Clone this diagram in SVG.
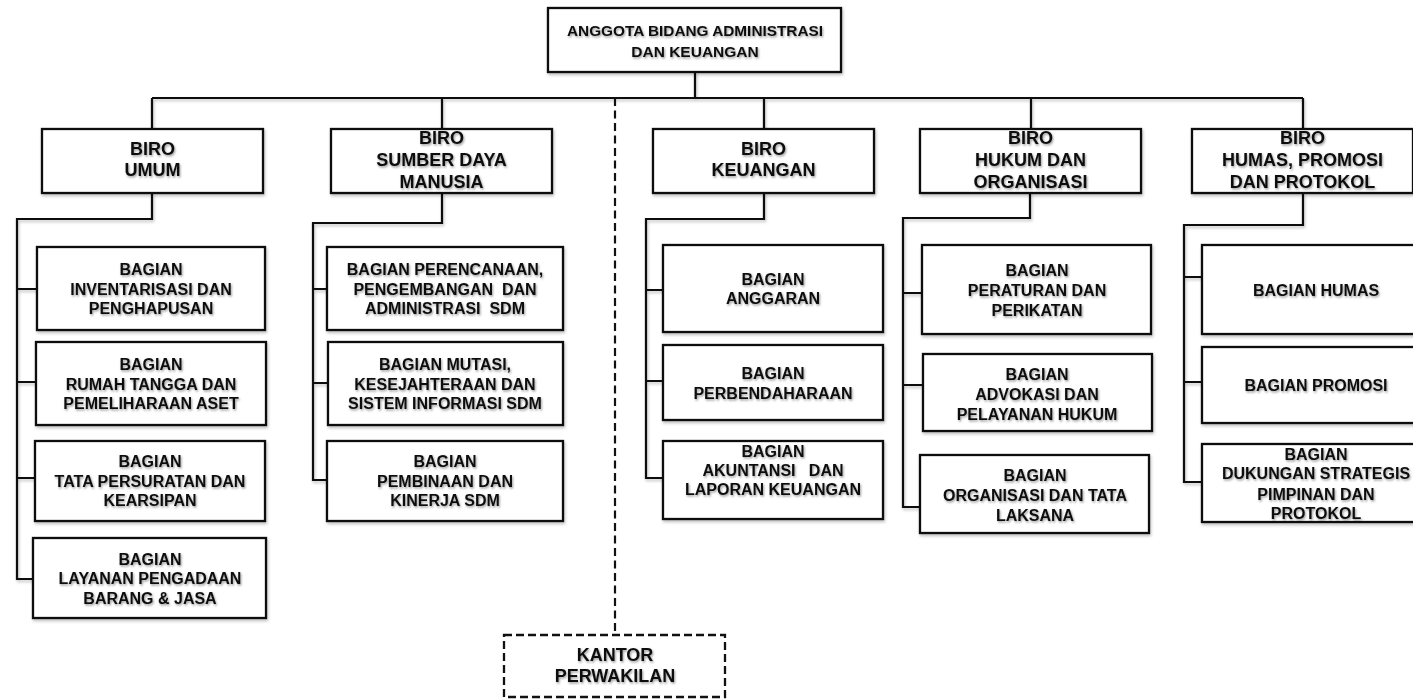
<svg xmlns="http://www.w3.org/2000/svg" width="1413" height="700" viewBox="0 0 1413 700">
<defs>
<filter id="ts" x="-10%" y="-30%" width="120%" height="160%">
<feDropShadow dx="1" dy="1.5" stdDeviation="1.2" flood-color="#000" flood-opacity="0.4"/>
</filter>
<filter id="bs" x="-5%" y="-10%" width="110%" height="125%">
<feDropShadow dx="1" dy="2" stdDeviation="1.5" flood-color="#000" flood-opacity="0.25"/>
</filter>
</defs>
<style>
.box{fill:#fff;stroke:#111;stroke-width:2.3;filter:url(#bs)}
.dbox{fill:#fff;stroke:#111;stroke-width:2.3;stroke-dasharray:8 4}
.ln{fill:none;stroke:#111;stroke-width:2.2;filter:url(#bs)}
.dl{fill:none;stroke:#111;stroke-width:2.2;stroke-dasharray:8 4.5}
text{font-family:"Liberation Sans",Arial,sans-serif;font-weight:bold;fill:#111;text-anchor:middle;filter:url(#ts)}
.t0{font-size:15.5px}
.t1{font-size:18px}
.t2{font-size:16px}
</style>

<g id="connectors">
<path class="ln" d="M695,72 V98 M152,98 H1303 M152,98 V129 M442,98 V129 M764,98 V129 M1031,98 V129 M1303,98 V129"/>
<path class="dl" d="M615,98 V635"/>
<path class="ln" d="M152,193 V219 H17 V579 H33 M17,289 H37 M17,382 H36 M17,478 H35"/>
<path class="ln" d="M442,193 V223 H313 V480 H327 M313,289 H327 M313,383 H328"/>
<path class="ln" d="M764,193 V219 H646 V478 H663 M646,290 H663 M646,381 H663"/>
<path class="ln" d="M1030,193 V218 H903 V507 H920 M903,293 H922 M903,385 H923"/>
<path class="ln" d="M1303,193 V225 H1184 V482 H1202 M1184,277 H1202 M1184,382 H1202"/>
</g>

<g id="anggota">
<rect class="box" x="548" y="8" width="293" height="64"/>
<text class="t0" x="695" y="35.5" textLength="256" lengthAdjust="spacingAndGlyphs">ANGGOTA BIDANG ADMINISTRASI</text>
<text class="t0" x="695" y="56.5">DAN KEUANGAN</text>
</g>

<g id="biro-umum">
<rect class="box" x="42" y="129" width="221" height="64"/>
<text class="t1" x="152.5" y="155.4">BIRO</text>
<text class="t1" x="152.5" y="176.4">UMUM</text>
</g>
<g id="biro-sdm">
<rect class="box" x="331" y="129" width="221" height="64"/>
<text class="t1" x="441.5" y="144.4">BIRO</text>
<text class="t1" x="441.5" y="166.4">SUMBER DAYA</text>
<text class="t1" x="441.5" y="188.4">MANUSIA</text>
</g>
<g id="biro-keuangan">
<rect class="box" x="653" y="129" width="221" height="64"/>
<text class="t1" x="763.5" y="155.4">BIRO</text>
<text class="t1" x="763.5" y="176.4">KEUANGAN</text>
</g>
<g id="biro-hukum">
<rect class="box" x="920" y="129" width="221" height="64"/>
<text class="t1" x="1030.5" y="144.4">BIRO</text>
<text class="t1" x="1030.5" y="166.4">HUKUM DAN</text>
<text class="t1" x="1030.5" y="188.4">ORGANISASI</text>
</g>
<g id="biro-humas">
<rect class="box" x="1192" y="129" width="221" height="64"/>
<text class="t1" x="1302.5" y="144.4">BIRO</text>
<text class="t1" x="1302.5" y="166.4">HUMAS, PROMOSI</text>
<text class="t1" x="1302.5" y="188.4">DAN PROTOKOL</text>
</g>

<g id="bagian-inventarisasi">
<rect class="box" x="37" y="247" width="228" height="83"/>
<text class="t2" x="151" y="274.7">BAGIAN</text>
<text class="t2" x="151" y="294.7">INVENTARISASI DAN</text>
<text class="t2" x="151" y="313.7">PENGHAPUSAN</text>
</g>
<g id="bagian-rumah-tangga">
<rect class="box" x="36" y="342" width="230" height="83"/>
<text class="t2" x="151" y="369.7">BAGIAN</text>
<text class="t2" x="151" y="389.7">RUMAH TANGGA DAN</text>
<text class="t2" x="151" y="408.7">PEMELIHARAAN ASET</text>
</g>
<g id="bagian-persuratan">
<rect class="box" x="35" y="441" width="230" height="80"/>
<text class="t2" x="150" y="466.7">BAGIAN</text>
<text class="t2" x="150" y="486.7">TATA PERSURATAN DAN</text>
<text class="t2" x="150" y="505.7">KEARSIPAN</text>
</g>
<g id="bagian-pengadaan">
<rect class="box" x="33" y="538" width="233" height="80"/>
<text class="t2" x="150" y="564.7">BAGIAN</text>
<text class="t2" x="150" y="583.7">LAYANAN PENGADAAN</text>
<text class="t2" x="150" y="603.7">BARANG &amp; JASA</text>
</g>

<g id="bagian-perencanaan">
<rect class="box" x="327" y="247" width="236" height="83"/>
<text class="t2" x="445" y="274.7">BAGIAN PERENCANAAN,</text>
<text class="t2" x="445" y="294.7" xml:space="preserve">PENGEMBANGAN  DAN</text>
<text class="t2" x="445" y="313.7" xml:space="preserve">ADMINISTRASI  SDM</text>
</g>
<g id="bagian-mutasi">
<rect class="box" x="328" y="342" width="235" height="83"/>
<text class="t2" x="445" y="369.7">BAGIAN MUTASI,</text>
<text class="t2" x="445" y="389.7">KESEJAHTERAAN DAN</text>
<text class="t2" x="445" y="408.7">SISTEM INFORMASI SDM</text>
</g>
<g id="bagian-pembinaan">
<rect class="box" x="327" y="441" width="236" height="80"/>
<text class="t2" x="445" y="466.7">BAGIAN</text>
<text class="t2" x="445" y="486.7">PEMBINAAN DAN</text>
<text class="t2" x="445" y="505.7">KINERJA SDM</text>
</g>

<g id="bagian-anggaran">
<rect class="box" x="663" y="245" width="220" height="87"/>
<text class="t2" x="773" y="284.7">BAGIAN</text>
<text class="t2" x="773" y="303.7">ANGGARAN</text>
</g>
<g id="bagian-perbendaharaan">
<rect class="box" x="663" y="345" width="220" height="75"/>
<text class="t2" x="773" y="378.7">BAGIAN</text>
<text class="t2" x="773" y="398.7">PERBENDAHARAAN</text>
</g>
<g id="bagian-akuntansi">
<rect class="box" x="663" y="441" width="220" height="78"/>
<text class="t2" x="773" y="456.7">BAGIAN</text>
<text class="t2" x="773" y="475.7" xml:space="preserve">AKUNTANSI   DAN</text>
<text class="t2" x="773" y="494.7">LAPORAN KEUANGAN</text>
</g>

<g id="bagian-peraturan">
<rect class="box" x="922" y="245" width="229" height="89"/>
<text class="t2" x="1037" y="275.7">BAGIAN</text>
<text class="t2" x="1037" y="295.7">PERATURAN DAN</text>
<text class="t2" x="1037" y="315.7">PERIKATAN</text>
</g>
<g id="bagian-advokasi">
<rect class="box" x="923" y="354" width="229" height="77"/>
<text class="t2" x="1037" y="379.7">BAGIAN</text>
<text class="t2" x="1037" y="399.7">ADVOKASI DAN</text>
<text class="t2" x="1037" y="419.7">PELAYANAN HUKUM</text>
</g>
<g id="bagian-organisasi">
<rect class="box" x="920" y="455" width="229" height="78"/>
<text class="t2" x="1035" y="480.7">BAGIAN</text>
<text class="t2" x="1035" y="500.7">ORGANISASI DAN TATA</text>
<text class="t2" x="1035" y="520.7">LAKSANA</text>
</g>

<g id="bagian-humas">
<rect class="box" x="1202" y="245" width="228" height="89"/>
<text class="t2" x="1316" y="295.7">BAGIAN HUMAS</text>
</g>
<g id="bagian-promosi">
<rect class="box" x="1202" y="347" width="228" height="76"/>
<text class="t2" x="1316" y="390.7">BAGIAN PROMOSI</text>
</g>
<g id="bagian-dukungan">
<rect class="box" x="1202" y="444" width="228" height="78"/>
<text class="t2" x="1316" y="459.7">BAGIAN</text>
<text class="t2" x="1316" y="479.2">DUKUNGAN STRATEGIS</text>
<text class="t2" x="1316" y="499.7">PIMPINAN DAN</text>
<text class="t2" x="1316" y="518.7">PROTOKOL</text>
</g>

<g id="kantor-perwakilan">
<rect class="dbox" x="504" y="635" width="221" height="62"/>
<text class="t1" x="615" y="661.4">KANTOR</text>
<text class="t1" x="615" y="682.4">PERWAKILAN</text>
</g>
</svg>
